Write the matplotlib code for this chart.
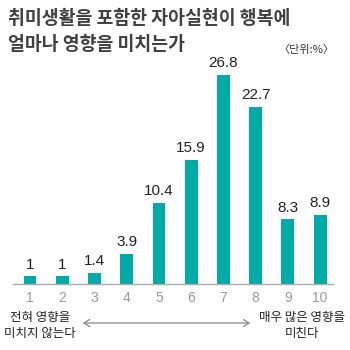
import matplotlib
matplotlib.use("Agg")
import matplotlib.pyplot as plt
from matplotlib.patches import FancyArrowPatch

categories = [1, 2, 3, 4, 5, 6, 7, 8, 9, 10]
values = [1, 1, 1.4, 3.9, 10.4, 15.9, 26.8, 22.7, 8.3, 8.9]
value_labels = ["1", "1", "1.4", "3.9", "10.4", "15.9", "26.8", "22.7", "8.3", "8.9"]
title_lines = ["취미생활을 포함한 자아실현이 행복에", "얼마나 영향을 미치는가"]
unit_label = "〈단위:%〉"
left_note = "전혀 영향을\n미치지 않는다"
right_note = "매우 많은 영향을\n미친다"

W = H = 350
fig = plt.figure(figsize=(3.5, 3.5), dpi=100)
fig.patch.set_facecolor("white")

def fx(px):
    return px / W

def fy(py):
    return 1 - py / H

KFONT = ["Noto Sans CJK KR", "DejaVu Sans"]
teal = "#00ABA7"

# axes: x from 13 to 333 px, baseline at 284 px, top at 60 px
ax = fig.add_axes([fx(13), fy(284), fx(320), (284 - 60) / H])
ax.bar(categories, values, width=0.40, color=teal, zorder=2)
ax.set_xlim(0.472, 10.40)
ax.set_ylim(0, 224 / 7.8)
for s in ["top", "right", "left"]:
    ax.spines[s].set_visible(False)
ax.spines["bottom"].set_color("#aaaaaa")
ax.spines["bottom"].set_linewidth(1.0)
ax.set_yticks([])
ax.set_xticks(categories)
ax.set_xticklabels([str(c) for c in categories], fontfamily="Liberation Sans",
                   fontsize=10, color="#999999")
ax.tick_params(axis="x", length=0, pad=5)
for x, v, lab in zip(categories, values, value_labels):
    ax.text(x, v + 0.6, lab, ha="center", va="bottom", fontsize=11,
            fontfamily="Liberation Sans", color="#222222")

fig.text(fx(8), fy(18.5), title_lines[0], fontsize=13.2, family=KFONT,
         color="#404040", ha="left", va="center", fontweight="bold")
fig.text(fx(8), fy(44), title_lines[1], fontsize=13.2, family=KFONT,
         color="#404040", ha="left", va="center", fontweight="bold")
fig.text(fx(334), fy(50), unit_label, fontsize=8, family=KFONT,
         color="#333333", ha="right", va="center")

fig.text(fx(40), fy(325), left_note, fontsize=9, family=KFONT, color="#222222",
         ha="center", va="center", linespacing=1.3)
fig.text(fx(302), fy(325), right_note, fontsize=9, family=KFONT, color="#222222",
         ha="center", va="center", linespacing=1.3)

arrow = FancyArrowPatch((fx(80), fy(323)), (fx(253), fy(323)), transform=fig.transFigure,
                        arrowstyle="<->,head_length=4,head_width=2.5", color="#888888",
                        linewidth=0.9)
fig.patches.append(arrow)

fig.savefig("out.png", dpi=100)
